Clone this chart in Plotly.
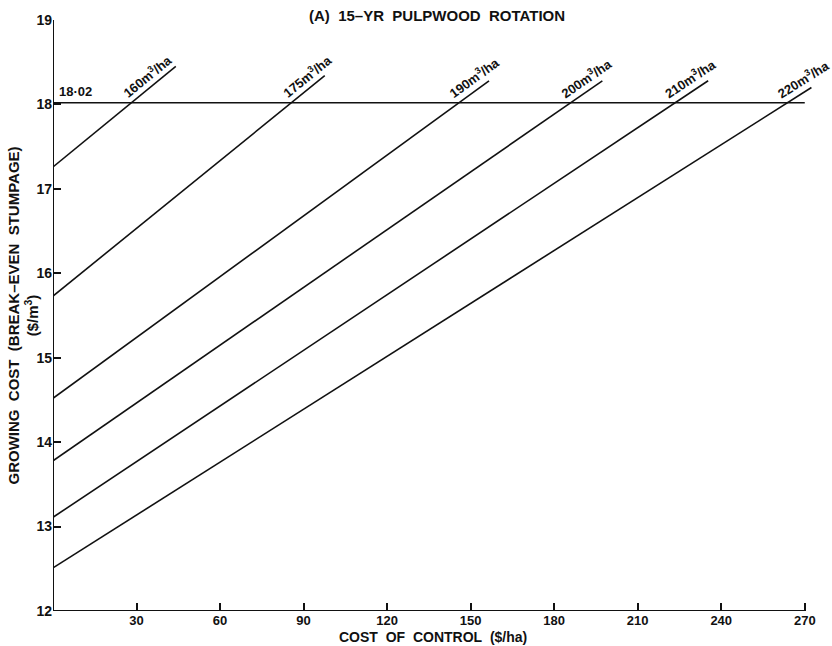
import math
import plotly.graph_objects as go

# Break-even stumpage lines for each yield class:
# cost of control ($/ha) and growing cost ($/m3) at the two ends of each line
yield_labels = ["160", "175", "190", "200", "210", "220"]
x_start = [0, 0, 0, 0, 0, 0]
x_end = [44.1, 97.6, 156.6, 197.3, 235.3, 272.4]
y_start = [17.26, 15.73, 14.52, 13.78, 13.11, 12.51]
y_end = [18.45, 18.34, 18.28, 18.28, 18.28, 18.20]

# Reference stumpage price ($/m3)
stumpage_price = 18.02
stumpage_x = [0, 270]

x_ticks = [30, 60, 90, 120, 150, 180, 210, 240, 270]
y_ticks = [12, 13, 14, 15, 16, 17, 18, 19]

W, H = 832, 646
M = dict(l=53, r=20, t=20, b=35)
X_RANGE = [0, 272.6]
Y_RANGE = [12, 19]

FONT = "Liberation Sans"
INK = "#111111"

fig = go.Figure()

for lab, x0, x1, y0, y1 in zip(yield_labels, x_start, x_end, y_start, y_end):
    fig.add_trace(go.Scatter(x=[x0, x1], y=[y0, y1], mode="lines",
                             line=dict(color=INK, width=1.6),
                             showlegend=False, hoverinfo="skip"))

fig.add_trace(go.Scatter(x=stumpage_x, y=[stumpage_price, stumpage_price], mode="lines",
                         line=dict(color=INK, width=1.6),
                         showlegend=False, hoverinfo="skip"))

# pixel scale of the plotting area, used to tilt labels along their lines
px_x = (W - M["l"] - M["r"]) / (X_RANGE[1] - X_RANGE[0])
px_y = (H - M["t"] - M["b"]) / (Y_RANGE[1] - Y_RANGE[0])

annotations = []
for lab, x0, x1, y0, y1 in zip(yield_labels, x_start, x_end, y_start, y_end):
    slope = (y1 - y0) / (x1 - x0)
    angle = math.degrees(math.atan(slope * px_y / px_x))
    xc = x0 + (stumpage_price - y0) / slope + 5.8
    yc = y0 + slope * (xc - x0)
    annotations.append(dict(
        x=xc, y=yc, xref="x", yref="y", showarrow=False,
        text=f"{lab}m<sup>3</sup>/ha", textangle=-angle,
        xanchor="center", yanchor="middle", yshift=14, xshift=-1,
        font=dict(family=FONT, size=13, color=INK, weight="bold")))

annotations.append(dict(
    x=0, y=stumpage_price, xref="x", yref="y", showarrow=False,
    text="18·02", xanchor="left", yanchor="bottom", xshift=4, yshift=2,
    font=dict(family=FONT, size=13, color=INK, weight="bold")))

annotations.append(dict(
    x=0.506, y=1, xref="paper", yref="paper", showarrow=False,
    text="(A)\u00a0 15–YR\u00a0 PULPWOOD\u00a0 ROTATION",
    xanchor="center", yanchor="middle", yshift=5,
    font=dict(family=FONT, size=15, color=INK, weight="bold")))

annotations.append(dict(
    x=0.5, y=0, xref="paper", yref="paper", showarrow=False,
    text="COST\u00a0 OF\u00a0 CONTROL\u00a0 ($/ha)",
    xanchor="center", yanchor="middle", yshift=-26,
    font=dict(family=FONT, size=14, color=INK, weight="bold")))

annotations.append(dict(
    x=0, y=0.5, xref="paper", yref="paper", showarrow=False,
    text="GROWING\u00a0 COST\u00a0 (BREAK–EVEN\u00a0 STUMPAGE)<br>($/m<sup>3</sup>)",
    textangle=-90, xanchor="center", yanchor="middle", xshift=-30,
    font=dict(family=FONT, size=15, color=INK, weight="bold")))

# axis lines stop at the last tick of each axis
shapes = [
    dict(type="line", xref="x", yref="y", x0=0, x1=x_ticks[-1], y0=Y_RANGE[0], y1=Y_RANGE[0],
         line=dict(color=INK, width=2)),
    dict(type="line", xref="x", yref="y", x0=0, x1=0, y0=Y_RANGE[0], y1=y_ticks[-1],
         line=dict(color=INK, width=2)),
]

fig.update_layout(
    width=W, height=H, margin=M,
    paper_bgcolor="white", plot_bgcolor="white",
    annotations=annotations, shapes=shapes,
    xaxis=dict(range=X_RANGE, tickvals=x_ticks, ticktext=[str(v) for v in x_ticks],
               ticks="inside", ticklen=8, tickwidth=1.5, tickcolor=INK,
               showgrid=False, zeroline=False, showline=False,
               tickfont=dict(family=FONT, size=13, color=INK, weight="bold")),
    yaxis=dict(range=Y_RANGE, tickvals=y_ticks, ticktext=[str(v) for v in y_ticks],
               ticks="inside", ticklen=8, tickwidth=1.5, tickcolor=INK,
               showgrid=False, zeroline=False, showline=False,
               tickfont=dict(family=FONT, size=14, color=INK, weight="bold")),
)

fig.write_html("out.html")
